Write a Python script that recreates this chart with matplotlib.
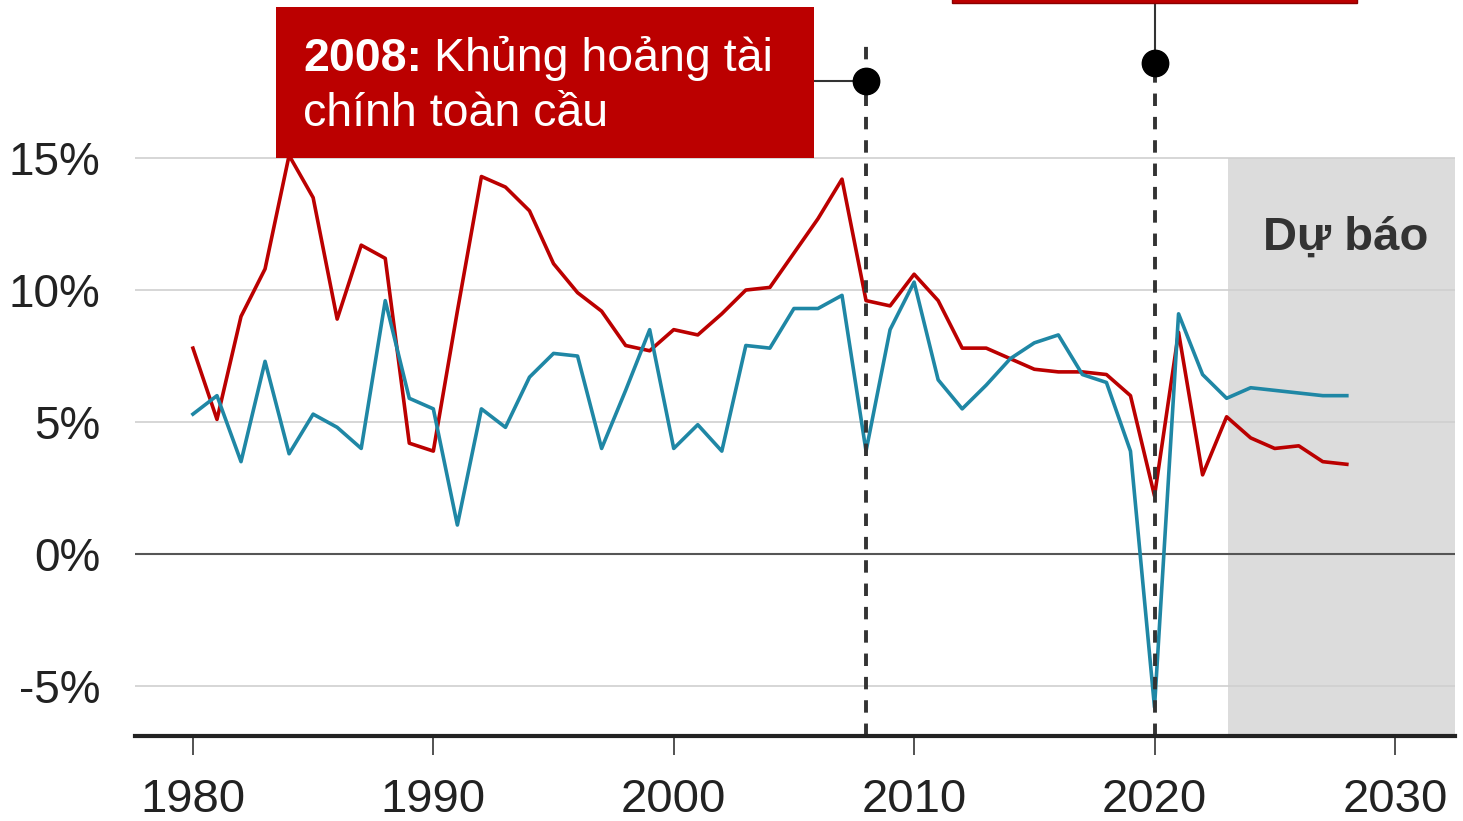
import matplotlib.pyplot as plt
from matplotlib.patches import Rectangle

plt.rcParams['font.family'] = ['Liberation Sans', 'DejaVu Sans']

# GDP growth per year (forecast from 2023)
years = list(range(1980, 2029))
china = [7.8, 5.1, 9.0, 10.8, 15.1, 13.5, 8.9, 11.7, 11.2, 4.2,
         3.9, 9.2, 14.3, 13.9, 13.0, 11.0, 9.9, 9.2, 7.9, 7.7,
         8.5, 8.3, 9.1, 10.0, 10.1, 11.4, 12.7, 14.2, 9.6, 9.4,
         10.6, 9.6, 7.8, 7.8, 7.4, 7.0, 6.9, 6.9, 6.8, 6.0,
         2.2, 8.4, 3.0, 5.2, 4.4, 4.0, 4.1, 3.5, 3.4]
india = [5.3, 6.0, 3.5, 7.3, 3.8, 5.3, 4.8, 4.0, 9.6, 5.9,
         5.5, 1.1, 5.5, 4.8, 6.7, 7.6, 7.5, 4.0, 6.2, 8.5,
         4.0, 4.9, 3.9, 7.9, 7.8, 9.3, 9.3, 9.8, 3.9, 8.5,
         10.3, 6.6, 5.5, 6.4, 7.4, 8.0, 8.3, 6.8, 6.5, 3.9,
         -5.8, 9.1, 6.8, 5.9, 6.3, 6.2, 6.1, 6.0, 6.0]

forecast_start = 2023.05
yticks = [-5, 0, 5, 10, 15]
ytick_labels = ['-5%', '0%', '5%', '10%', '15%']
xticks = [1980, 1990, 2000, 2010, 2020, 2030]

event_years = [2008, 2020]
event_marker_y = [17.9, 18.6]

RED = '#bb0000'
BLUE = '#1f87a5'
DARK = '#222222'

fig = plt.figure(figsize=(14.63, 8.21), dpi=100)
ax = fig.add_axes([135 / 1463, 1 - 736 / 821, 1320 / 1463, 736 / 821])
x0, x1 = 1977.59, 2032.5
y0, y1 = -6.89, 20.985
ax.set_xlim(x0, x1)
ax.set_ylim(y0, y1)

# forecast shading
ax.add_patch(Rectangle((forecast_start, y0), x1 - forecast_start, 15 - y0,
                       facecolor='#dcdcdc', edgecolor='none', zorder=0))
ax.text(2027.96, 11.52, 'Dự báo', fontsize=34, fontweight='bold', color='#333333',
        ha='center', va='baseline', zorder=2)

for v in yticks:
    if v == 0:
        ax.axhline(v, color='#555555', lw=1.5, zorder=1)
    else:
        ax.axhline(v, color='#cfcfcf', lw=1.2, zorder=1)

ax.plot(years, china, color=RED, lw=2.6, zorder=3)
ax.plot(years, india, color=BLUE, lw=2.6, zorder=3)

# event lines
ax.plot([event_years[0]] * 2, [y0, 19.3], color='#333333', lw=2.8,
        ls=(0, (3.2, 2.8)), zorder=4)
ax.plot([event_years[1]] * 2, [y0, event_marker_y[1]], color='#333333', lw=2.8,
        ls=(0, (3.2, 2.8)), zorder=4)
ax.plot([event_years[1]] * 2, [event_marker_y[1], 20.87], color='#333333', lw=1.5, zorder=4)
ax.plot([2005.83, event_years[0]], [event_marker_y[0]] * 2, color='#333333', lw=1.5, zorder=4)
ax.plot(event_years, event_marker_y, 'o', color='black', ms=19, zorder=6)

# annotation boxes
ax.add_patch(Rectangle((1983.45, 15), 2005.83 - 1983.45, 20.72 - 15,
                       facecolor=RED, edgecolor='none', zorder=5))
ax.add_patch(Rectangle((2011.57, 20.87), 2028.42 - 2011.57, 1.0,
                       facecolor=RED, edgecolor='#8a0000', lw=1, zorder=5, clip_on=True))

t1 = ax.text(1984.58, 18.3, '2008:', fontsize=33.5, fontweight='bold', color='white',
             ha='left', va='baseline', zorder=7)
fig.canvas.draw()
bb = t1.get_window_extent()
x_after = ax.transData.inverted().transform((bb.x1 + 12, bb.y0))[0]
ax.text(x_after, 18.3, 'Khủng hoảng tài', fontsize=33.5, color='white',
        ha='left', va='baseline', zorder=7)
ax.text(1984.58, 16.2, 'chính toàn cầu', fontsize=33.5, color='white',
        ha='left', va='baseline', zorder=7)

# axes styling
for side in ['top', 'right', 'left']:
    ax.spines[side].set_visible(False)
ax.spines['bottom'].set_linewidth(3)
ax.spines['bottom'].set_color(DARK)
ax.spines['bottom'].set_zorder(5)

ax.set_yticks(yticks)
ax.set_yticklabels(ytick_labels)
ax.set_xticks(xticks)
ax.tick_params(axis='y', length=0, pad=25, labelsize=33, labelcolor=DARK)
ax.tick_params(axis='x', length=14, width=1.3, color='#444444', pad=16,
               labelsize=34, labelcolor=DARK)

fig.savefig('out.png', dpi=100)
